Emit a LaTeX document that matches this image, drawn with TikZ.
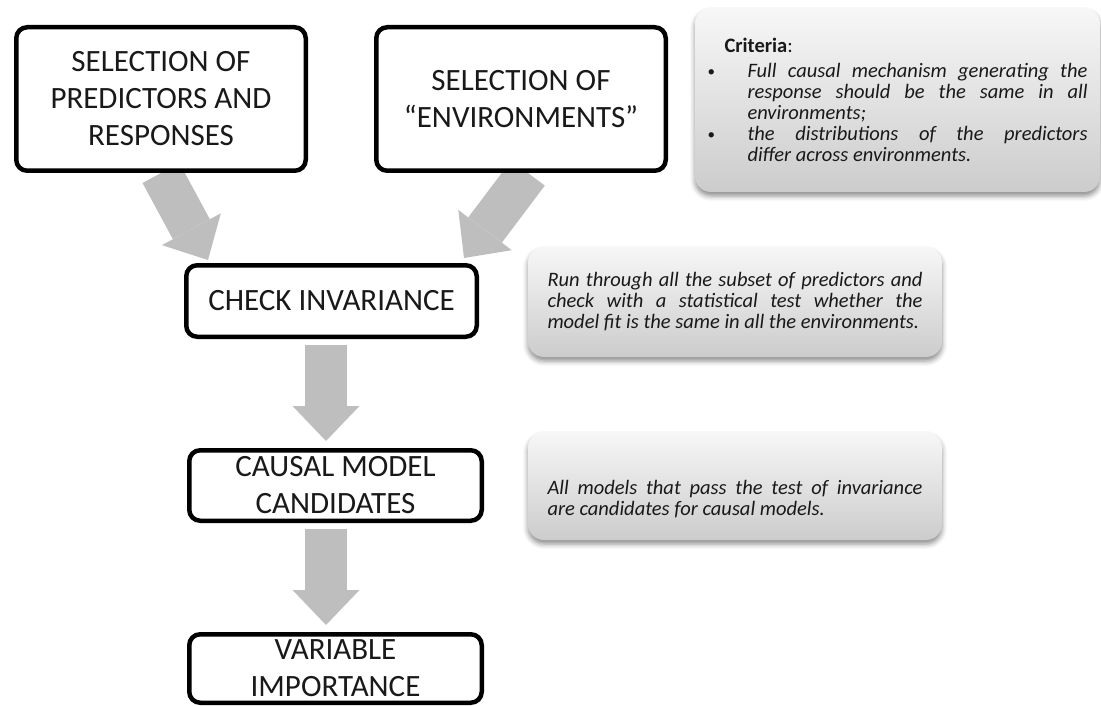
\documentclass[tikz,border=0pt]{standalone}
\usepackage{fontspec}
\setmainfont{Carlito}
\usetikzlibrary{arrows.meta,backgrounds,shadows.blur}
\definecolor{arrowgray}{RGB}{190,190,190}
\definecolor{notetop}{RGB}{247,247,247}
\definecolor{notebottom}{RGB}{204,204,204}
\definecolor{ink}{RGB}{25,25,25}
\newcommand{\smallbullet}{\makebox[40pt][l]{\fontsize{15}{15}\selectfont\raisebox{1pt}{\textbullet}}}

\begin{document}
\begin{tikzpicture}[x=1pt,y=-1pt,
  stepbox/.style={draw=black, line width=4.5pt, rounded corners=11pt, fill=white,
    align=center, inner sep=0pt, text=ink, font=\fontsize{31}{37}\selectfont},
  notebox/.style={rounded corners=16pt, top color=notetop, bottom color=notebottom,
    inner sep=0pt, text=ink,
    blur shadow={shadow xshift=0pt, shadow yshift=-4pt, shadow blur radius=5pt, shadow opacity=45}},
  flowarrow/.style={draw=arrowgray, line width=42pt,
    -{Triangle[width=67pt,length=35pt,line width=0pt]}},
  notefont/.style={font=\fontsize{20.5}{21}\selectfont}]

\useasboundingbox (0,0) rectangle (1101,706);

% process steps
\node[stepbox, minimum width=289.5pt, minimum height=143.5pt] (p) at (161,99)
  {SELECTION OF\\PREDICTORS AND\\RESPONSES};
\node[stepbox, minimum width=289.5pt, minimum height=143.5pt] (e) at (521,99)
  {SELECTION OF\\“ENVIRONMENTS”};
\node[stepbox, minimum width=290.5pt, minimum height=71.5pt] (ci) at (331.5,301)
  {CHECK INVARIANCE};
\node[stepbox, minimum width=292.5pt, minimum height=70.5pt] (cm) at (335.5,485.5)
  {CAUSAL MODEL\\CANDIDATES};
\node[stepbox, minimum width=292.5pt, minimum height=68.5pt] (vi) at (335.5,668.5)
  {VARIABLE\\IMPORTANCE};

% explanatory notes
\node[notebox, notefont, minimum width=405pt, minimum height=184pt] (c1) at (897.5,100)
  {\begin{minipage}{380pt}
   \hspace*{17pt}\textbf{Criteria}:\par\vspace{4pt}
   \smallbullet\parbox[t]{340pt}{\itshape Full causal mechanism generating the\linebreak
     response should be the same in all\linebreak environments;}\par\vspace{3pt}
   \smallbullet\parbox[t]{340pt}{\itshape the distributions of the predictors\linebreak
     differ across environments.}
   \end{minipage}};
\node[notebox, notefont, minimum width=414pt, minimum height=110pt] (c2) at (735,302)
  {\parbox{375pt}{\itshape Run through all the subset of predictors and\linebreak
     check with a statistical test whether the\linebreak
     model fit is the same in all the environments.}};
\node[notebox, notefont, minimum width=414pt, minimum height=108pt] (c3) at (735,486)
  {\parbox{375pt}{\vspace{26pt}\itshape All models that pass the test of invariance\linebreak
     are candidates for causal models.}};

% block arrows between steps
\begin{scope}[on background layer]
  \draw[flowarrow] (p.south) -- ([xshift=24pt,yshift=3pt]ci.north west);
  \draw[flowarrow] ([xshift=7pt]e.south) -- ([xshift=-15pt,yshift=5pt]ci.north east);
  \draw[flowarrow] ([xshift=-5.5pt,yshift=-6pt]ci.south) -- ([xshift=-9.5pt,yshift=7pt]cm.north);
  \draw[flowarrow] ([xshift=-9.5pt,yshift=-6pt]cm.south) -- ([xshift=-9.5pt,yshift=7pt]vi.north);
\end{scope}
\end{tikzpicture}
\end{document}
